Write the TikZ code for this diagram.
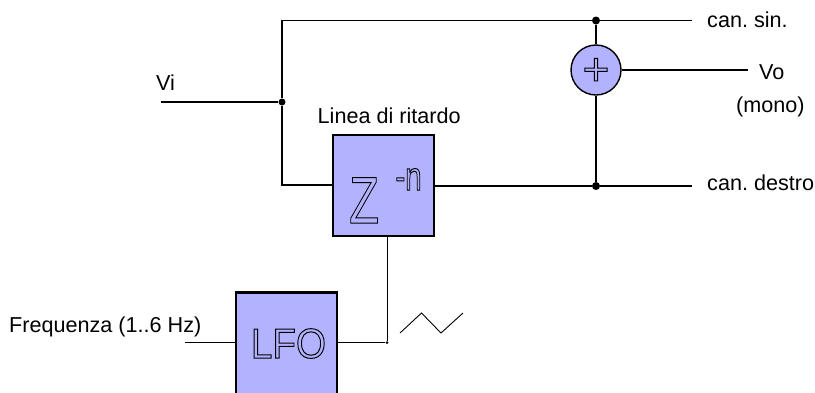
\documentclass[tikz,border=0pt]{standalone}
\usepackage{fontspec}
\setmainfont{Liberation Sans}
\frenchspacing
\newcommand{\outl}[1]{\special{pdf:code 1 Tr 1 w}#1\special{pdf:code 0 Tr}}
\tikzset{
  x=1pt,y=-1pt,
  block/.style={draw=black,line width=2.8pt,fill=blockfill,rectangle,minimum width=101pt,minimum height=101pt,inner sep=0pt,anchor=center},
  junction/.style={circle,fill=black,inner sep=0pt,minimum size=#1},
  wire/.style={line width=1.4pt,black},
  thin wire/.style={line width=1pt,black},
  glyph/.style={inner sep=0pt,anchor=base,transform shape},
  lab/.style={font=\fontsize{21.6}{24}\selectfont,inner sep=0pt,anchor=base west},
}
\definecolor{blockfill}{RGB}{178,178,255}
\begin{document}
\begin{tikzpicture}
\useasboundingbox (0,0) rectangle (815,392);
\clip (0,0) rectangle (815,392);
\node[block] (delay) at (383.5,185.5) {};
\node[block,minimum height=112pt] (lfo) at (286.5,348.5) {};
\node[circle,draw=black,line width=1.4pt,fill=blockfill,minimum size=50pt,inner sep=0pt] (sum) at (596,70) {};
\node[junction=8pt] (jtop) at (596,20.5) {};
\node[junction=8pt] (jbot) at (596,186) {};
\node[junction=7pt] (jvi) at (282,102) {};
\node[junction=3pt] (jlfo) at (387,342.5) {};
\coordinate (corner1) at (282,20.5);
\coordinate (corner2) at (282,185);
\coordinate (viin) at (161,102);
\coordinate (left) at (692,20.5);
\coordinate (right) at (692,186);
\coordinate (vo) at (748,70);
\coordinate (freq) at (185,342.5);
\draw[wire] (viin) -- (jvi);
\draw[wire] (jvi) -- (corner1) -- (jtop) -- (left);
\draw[wire] (jvi) -- (corner2) -- (corner2-|delay.west);
\draw[wire] (delay.east|-jbot) -- (jbot) -- (right);
\draw[wire] (jtop) -- (sum);
\draw[wire] (jbot) -- (sum);
\draw[wire] (sum) -- (vo);
\draw[wire] (freq) -- (freq-|lfo.west);
\draw[wire] (lfo.east|-jlfo) -- (jlfo);
\draw[thin wire] (jlfo) -- (jlfo|-delay.south);
\draw[line width=0.9pt] (400,333) -- (421.5,313) -- (441,333) -- (463,313);
\begin{scope}[xscale=0.74]
\node[glyph,font=\fontsize{66}{70}\selectfont] (zchar) at (364/0.74,223) {\outl{Z}};
\node[glyph,font=\fontsize{40}{44}\selectfont] (nchar) at (408.5/0.74,190) {\outl{-n}};
\end{scope}
\begin{scope}[xscale=0.92]
\node[glyph,font=\fontsize{42}{46}\selectfont] (lfotext) at (288.5/0.92,358) {\outl{LFO}};
\end{scope}
\node[glyph,font=\fontsize{46}{50}\selectfont] (plus) at (596,85) {\outl{+}};
\node[lab] (tvi) at (156,90) {Vi};
\node[lab] (tritardo) at (317.5,123) {Linea di ritardo};
\node[lab] (tsin) at (707,27) {can. sin.};
\node[lab] (tvo) at (759,79) {Vo};
\node[lab] (tmono) at (736,112) {(mono)};
\node[lab] (tdestro) at (707,190) {can. destro};
\node[lab] (tfreq) at (9,332) {Frequenza (1..6 Hz)};
\end{tikzpicture}
\end{document}
